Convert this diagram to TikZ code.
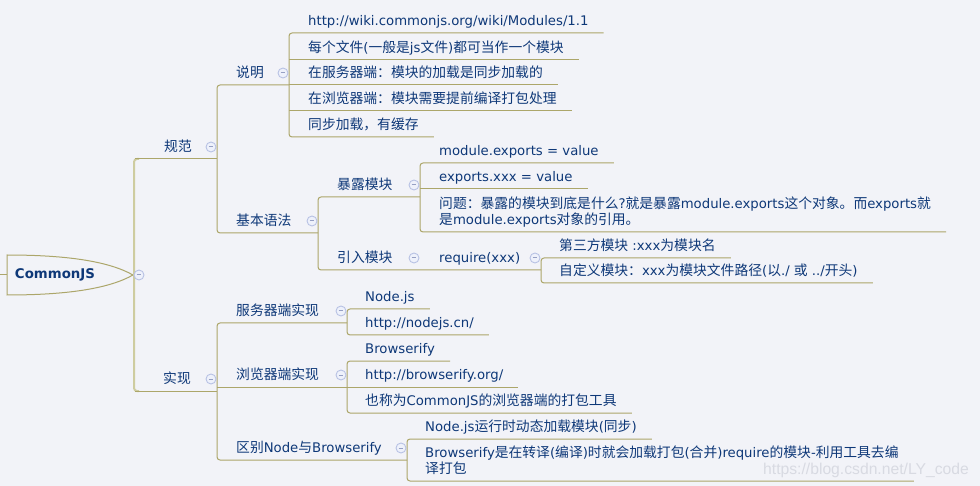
\documentclass[tikz,border=0pt]{standalone}
\usepackage{fontspec}
\setmainfont{DejaVu Sans}[Scale=0.96]
\newfontfamily\cjk{Noto Sans CJK SC}
\newfontfamily\wmfont{Liberation Sans}
\usetikzlibrary{calc}
\definecolor{BgClr}{RGB}{242,243,248}
\definecolor{TxtClr}{RGB}{14,56,120}
\definecolor{LineClr}{RGB}{172,166,106}
\definecolor{TrunkClr}{RGB}{206,204,160}
\definecolor{FoldClr}{RGB}{184,194,228}
\definecolor{FoldFill}{RGB}{238,241,251}
\definecolor{MarkClr}{RGB}{150,160,196}
\definecolor{WmClr}{RGB}{216,218,226}

% switch to the CJK font for Chinese characters
\XeTeXinterchartokenstate=1
\newXeTeXintercharclass\CJKcls
\newcount\cjkcnt
\def\cjkrange#1#2{\cjkcnt=#1\relax
  \loop\XeTeXcharclass\cjkcnt=\CJKcls
  \ifnum\cjkcnt<#2\relax\advance\cjkcnt by 1\repeat}
\cjkrange{"3000}{"303F}
\cjkrange{"4E00}{"9FFF}
\cjkrange{"FF00}{"FFEF}
\XeTeXinterchartoks 0 \CJKcls={\cjk}
\XeTeXinterchartoks 4095 \CJKcls={\cjk}
\XeTeXinterchartoks \CJKcls 0={\rmfamily}
\XeTeXinterchartoks \CJKcls 4095={\rmfamily}

\begin{document}
\begin{tikzpicture}[x=1pt,y=-1pt,
  font=\fontsize{13.8}{16}\selectfont,
  topic/.style={anchor=south west,inner sep=0pt,text height=12pt,text depth=7pt,text=TxtClr},
  topics/.style={anchor=south west,inner sep=0pt,align=left,text=TxtClr},
  branch/.style={draw=LineClr,line width=1pt},
  bracket/.style={branch,rounded corners=3pt},
  trunk/.style={draw=TrunkClr,line width=2pt,rounded corners=3pt},
  fold/.style={circle,draw=FoldClr,fill=FoldFill,line width=0.9pt,inner sep=0pt,minimum size=10pt,
    path picture={\draw[MarkClr,line width=1pt]
      ([xshift=-2.3pt]path picture bounding box.center) -- ([xshift=2.3pt]path picture bounding box.center);}}]

\fill[BgClr] (0,0) rectangle (980,486);
\useasboundingbox (0,0) rectangle (980,486);

% root
\coordinate (lead) at (0,275);
\coordinate (tip) at (133,275);
\coordinate (m) at (134,275);
\draw[branch] (lead) -- (7,275);
\draw[branch,fill=BgClr] (7,255) .. controls (70,255) and (110,262) .. (tip) .. controls (110,288) and (70,295) .. (7,295) -- cycle;
\node[text=TxtClr,font=\fontsize{13.9}{16}\selectfont\bfseries] (root) at (55,275) {CommonJS};

% level 1
\node[topic] (gf) at (164,159) {规范};
\node[topic] (sx) at (163,391) {实现};
\coordinate (bgf) at (217,159);
\coordinate (bsx) at (217,391);
\draw[trunk] ([xshift=5pt]bgf -| m) -- (bgf -| m) -- (bsx -| m) -- ([xshift=5pt]bsx -| m);
\draw[branch] ([xshift=1pt]bgf -| m) -- (bgf);
\draw[branch] ([xshift=1pt]bsx -| m) -- (bsx);

% guifan
\node[topic] (sm) at (236,85) {说明};
\node[topic] (jb) at (236,233) {基本语法};
\coordinate (bsm) at (289,85);
\coordinate (bjb) at (318,233);
\draw[bracket] (bsm) -- (bsm -| bgf) -- (bjb -| bgf) -- (bjb);

% shuoming
\node[topic] (s1) at (308,33) {http://wiki.commonjs.org/wiki/Modules/1.1};
\node[topic] (s2) at (308,60) {每个文件(一般是js文件)都可当作一个模块};
\node[topic] (s3) at (308,85) {在服务器端：模块的加载是同步加载的};
\node[topic] (s4) at (308,111) {在浏览器端：模块需要提前编译打包处理};
\node[topic] (s5) at (308,137) {同步加载，有缓存};
\draw[bracket] ([xshift=15pt]s1.south east) -- (s1.south west -| bsm) -- (s5.south west -| bsm) -- ([xshift=15pt]s5.south east);
\foreach \n in {s2,s3,s4}
  \draw[branch] (\n.south west -| bsm) -- ([xshift=15pt]\n.south east);

% jiben yufa
\node[topic] (bl) at (337,197) {暴露模块};
\node[topic] (yr) at (337,270) {引入模块};
\node[topic] (rq) at (439,270) {require(xxx)};
\coordinate (bbl) at (420,197);
\coordinate (byr) at (420,270);
\coordinate (brq) at (541,270);
\draw[bracket] (bbl) -- (bbl -| bjb) -- (byr -| bjb) -- (brq);

% baolu
\node[topic] (e1) at (439,163) {module.exports = value};
\node[topic] (e2) at (439,189) {exports.xxx = value};
\node[topics] (e3) at (439,232) {\rule{0pt}{12pt}问题：暴露的模块到底是什么?就是暴露module.exports这个对象。而exports就\\是module.exports对象的引用。\rule[-7pt]{0pt}{7pt}};
\draw[bracket] ([xshift=15pt]e1.south east) -- (e1.south west -| bbl) -- (e3.south west -| bbl) -- ([xshift=15pt]e3.south east);
\draw[branch] (e2.south west -| bbl) -- ([xshift=15pt]e2.south east);

% require
\node[topic] (r1) at (559,258) {第三方模块 :xxx为模块名};
\node[topic] (r2) at (559,283) {自定义模块：xxx为模块文件路径(以./ 或 ../开头)};
\draw[bracket] ([xshift=15pt]r1.south east) -- (r1.south west -| brq) -- (r2.south west -| brq) -- ([xshift=15pt]r2.south east);

% shixian
\node[topic] (fw) at (236,323) {服务器端实现};
\node[topic] (ll) at (236,387) {浏览器端实现};
\node[topic] (qb) at (236,460) {区别Node与Browserify};
\coordinate (bfw) at (347,323);
\coordinate (bll) at (347,387);
\coordinate (bqb) at (407,460);
\draw[bracket] (bfw) -- (bfw -| bsx) -- (bqb -| bsx) -- (bqb);
\draw[branch] (bll -| bsx) -- (bll);

\node[topic] (f1) at (365,309) {Node.js};
\node[topic] (f2) at (365,335) {http://nodejs.cn/};
\draw[bracket] ([xshift=15pt]f1.south east) -- (f1.south west -| bfw) -- (f2.south west -| bfw) -- ([xshift=15pt]f2.south east);

\node[topic] (l1) at (365,361) {Browserify};
\node[topic] (l2) at (365,387) {http://browserify.org/};
\node[topic] (l3) at (365,413) {也称为CommonJS的浏览器端的打包工具};
\draw[bracket] ([xshift=15pt]l1.south east) -- (l1.south west -| bll) -- (l3.south west -| bll) -- ([xshift=15pt]l3.south east);
\draw[branch] (l2.south west -| bll) -- ([xshift=15pt]l2.south east);

\node[topic] (q1) at (425,439) {Node.js运行时动态加载模块(同步)};
\node[topics] (q2) at (425,481) {\rule{0pt}{12pt}Browserify是在转译(编译)时就会加载打包(合并)require的模块-利用工具去编\\译打包\rule[-7pt]{0pt}{7pt}};
\draw[bracket] ([xshift=15pt]q1.south east) -- (q1.south west -| bqb) -- (q2.south west -| bqb) -- ([xshift=15pt]q2.south east);

% fold marks
\node[fold] (fold-root) at ($(tip)+(6,0)$) {};
\foreach \b in {bgf,bsx,bsm,bjb,bbl,byr,brq,bfw,bll,bqb}
  \node[fold] (fold-\b) at ($(\b)+(-6,-12)$) {};

\node[text=WmClr,font=\wmfont\fontsize{15.7}{17}\selectfont,inner sep=0pt] (wm) at (866,470) {https://blog.csdn.net/LY\_code};

\end{tikzpicture}
\end{document}
